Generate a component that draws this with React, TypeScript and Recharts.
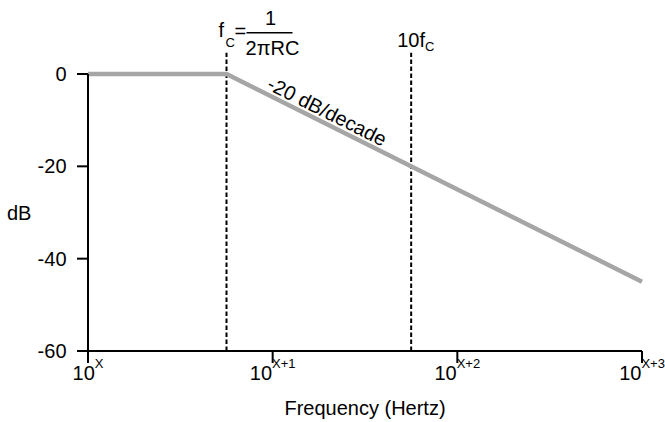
import { LineChart, Line, XAxis, YAxis, ReferenceLine, ReferenceDot } from 'recharts';

// x is measured in decades above 10^X, y in dB
const decades = [0, 1, 2, 3];
const decadeLabels = ['X', 'X+1', 'X+2', 'X+3'];
const dbTicks = [-60, -40, -20, 0];
const responseX = [0, 0.75, 3];
const responseDb = [0, 0, -45];
const cutoff = 0.75;
const tenCutoff = 1.75;
const markerTop = 4.6;
const slopeText = '-20 dB/decade';
const slopeAt = { x: 1.295, y: -8.1 };

const data = responseX.map((x, i) => ({ x, db: responseDb[i] }));

const FONT = '"Liberation Sans", Arial, Helvetica, sans-serif';

function DecadeTick(props: any) {
  const { x, y, payload } = props;
  const i = decades.indexOf(payload.value);
  return (
    <text x={x} y={y + 17} textAnchor="middle" fill="#000" fontSize={20}>
      10
      <tspan dy={-12} fontSize={13}>{decadeLabels[i]}</tspan>
    </text>
  );
}

function FcLabel(props: any) {
  const { x, y } = props.viewBox;
  return (
    <g fill="#000">
      <text x={x - 8} y={y - 16} fontSize={20}>f</text>
      <text x={x - 1} y={y - 6} fontSize={13}>C</text>
      <text x={x + 8} y={y - 15} fontSize={20}>=</text>
      <text x={x + 44} y={y - 28} fontSize={20} textAnchor="middle">1</text>
      <line x1={x + 20} x2={x + 66} y1={y - 20} y2={y - 20} stroke="#000" strokeWidth={1.6} />
      <text x={x + 46} y={y + 2} fontSize={20} textAnchor="middle">2πRC</text>
    </g>
  );
}

function TenFcLabel(props: any) {
  const { x, y } = props.viewBox;
  return (
    <text x={x - 14} y={y - 6} fontSize={20} fill="#000">
      10f
      <tspan dy={4} fontSize={13}>C</tspan>
    </text>
  );
}

function SlopeLabel(props: any) {
  const { x, y } = props.viewBox;
  return (
    <text
      x={x}
      y={y}
      fontSize={20}
      fill="#000"
      textAnchor="middle"
      dominantBaseline="central"
      transform={`rotate(26.6 ${x} ${y})`}
    >
      {slopeText}
    </text>
  );
}

export default function App() {
  return (
    <div style={{ position: 'absolute', left: 0, top: 0, fontFamily: FONT }}>
      <LineChart
        width={665}
        height={422}
        data={data}
        margin={{ top: 74, right: 23, bottom: 0, left: 0 }}
      >
        <XAxis
          dataKey="x"
          type="number"
          domain={[0, 3]}
          ticks={decades}
          tick={DecadeTick}
          tickSize={12}
          tickMargin={0}
          height={71}
          axisLine={{ stroke: '#000', strokeWidth: 2 }}
          tickLine={{ stroke: '#000', strokeWidth: 2 }}
          label={(p: any) => (
            <text
              x={p.viewBox.x + p.viewBox.width / 2}
              y={p.viewBox.y + 64}
              textAnchor="middle"
              fontSize={20}
              fill="#000"
            >
              Frequency (Hertz)
            </text>
          )}
        />
        <YAxis
          type="number"
          domain={[-60, 0]}
          ticks={dbTicks}
          width={88}
          tickSize={11}
          tickMargin={10.5}
          tick={{ fill: '#000', fontSize: 20 }}
          axisLine={{ stroke: '#000', strokeWidth: 2 }}
          tickLine={{ stroke: '#000', strokeWidth: 2 }}
          label={{ value: 'dB', position: 'insideLeft', offset: 7, fill: '#000', fontSize: 20 }}
        />
        <ReferenceLine
          segment={[{ x: cutoff, y: -60 }, { x: cutoff, y: markerTop }]}
          ifOverflow="visible"
          stroke="#000"
          strokeWidth={2}
          strokeDasharray="4.5 2.5"
          label={(p: any) => <FcLabel {...p} />}
        />
        <ReferenceLine
          segment={[{ x: tenCutoff, y: -60 }, { x: tenCutoff, y: markerTop }]}
          ifOverflow="visible"
          stroke="#000"
          strokeWidth={2}
          strokeDasharray="4.5 2.5"
          label={(p: any) => <TenFcLabel {...p} />}
        />
        <Line
          dataKey="db"
          type="linear"
          stroke="#a6a6a6"
          strokeWidth={4.5}
          dot={false}
          activeDot={false}
          isAnimationActive={false}
        />
        <ReferenceDot
          x={slopeAt.x}
          y={slopeAt.y}
          r={0}
          fill="none"
          stroke="none"
          label={(p: any) => <SlopeLabel {...p} />}
        />
      </LineChart>
    </div>
  );
}
